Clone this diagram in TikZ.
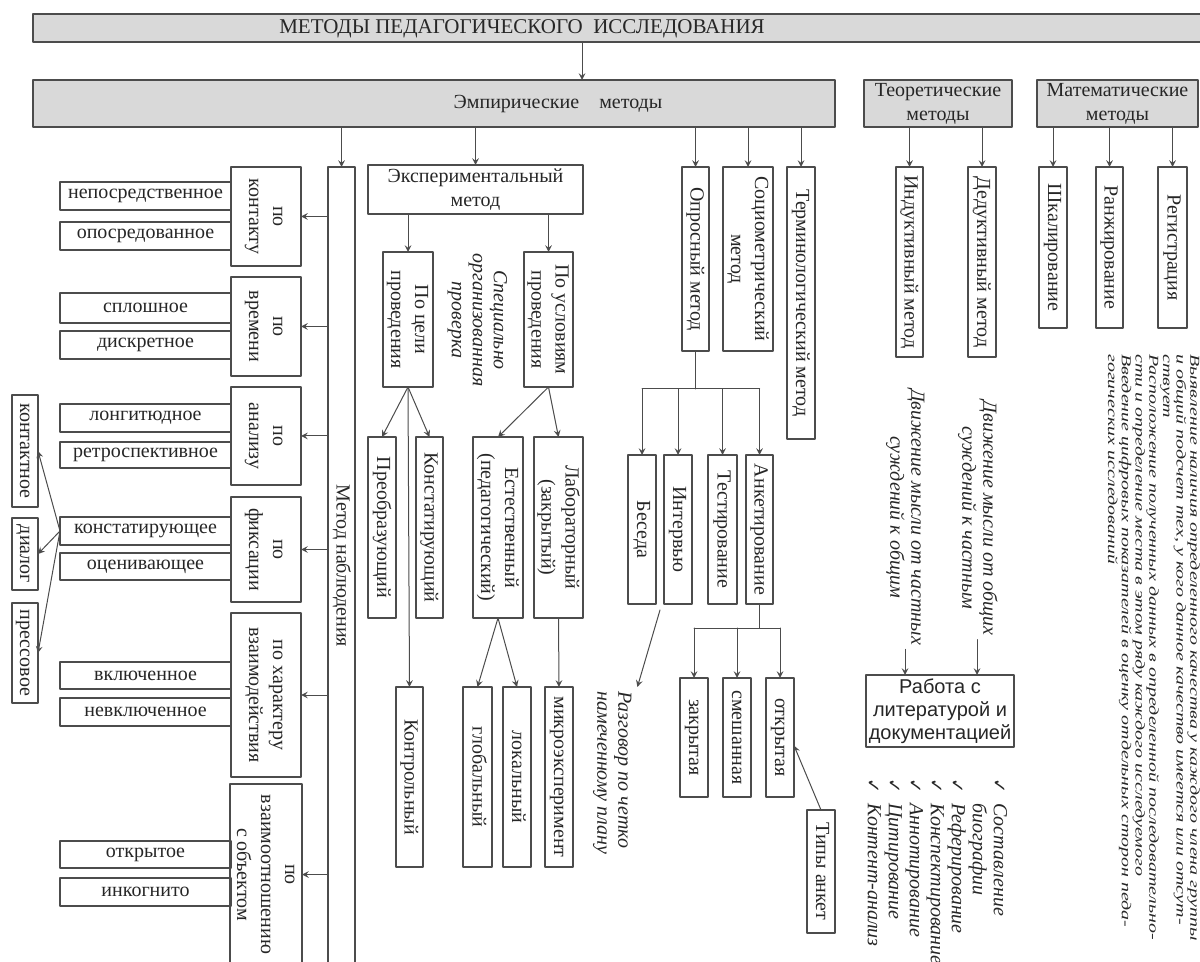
\documentclass[tikz,border=0pt]{standalone}
\usepackage{fontspec}
\setmainfont{Liberation Serif}
\setsansfont{Liberation Sans}
\newfontfamily\checkfont{DejaVu Sans}
\usepackage{graphicx}
\usepackage{tikz}
\usetikzlibrary{arrows}
\colorlet{FrameColor}{black!70}
\colorlet{HeadFill}{black!15}
\newcommand{\vtext}[1]{\rotatebox{-90}{\begin{tabular}{@{}c@{}}#1\end{tabular}}}
\newcommand{\ltext}[1]{\rotatebox{-90}{\begin{tabular}{@{}l@{}}#1\end{tabular}}}
\newcommand{\chk}{{\checkfont\upshape\small ✓}}
\newcommand{\bx}[7][]{\node[box,#1,minimum width={(#5-#3)*0.5pt},minimum height={(#6-#4)*0.5pt}] (#2) at ({(#3+#5)/2},{(#4+#6)/2}) {#7};}
\tikzset{
  box/.style={draw=FrameColor,line width=0.8pt,inner sep=0pt,outer sep=0pt,align=center,
    font=\fontsize{10}{12}\selectfont,text=black!85},
  head/.style={box,fill=HeadFill},
  note/.style={inner sep=2pt,font=\fontsize{10}{10.5}\selectfont\itshape,text=black!85},
  link/.style={->,draw=FrameColor,line width=0.5pt}
}

\begin{document}
\begin{tikzpicture}[line cap=round,line join=round,>=stealth,x=0.5pt,y=-0.5pt]
  \useasboundingbox (0,0) rectangle (1200,962);
  \clip (0,0) rectangle (1200,962);
  \bx[head]{top}{33}{14}{1215}{42}{}
  \node[font=\fontsize{10.5}{12}\selectfont,text=black!85] (toptext) at (522,29) {МЕТОДЫ ПЕДАГОГИЧЕСКОГО\enspace ИССЛЕДОВАНИЯ};
  \bx[head]{empir}{33}{80}{835}{127}{}
  \node[font=\fontsize{10}{12}\selectfont,text=black!85] (empirtext) at (558,104) {Эмпирические\quad методы};
  \bx[head]{teor}{864}{80}{1012}{127}{Теоретические\\методы}
  \bx[head]{mat}{1037}{80}{1198}{127}{Математические\\методы}
  \coordinate (topdrop) at (582,42);
  \draw[link] (topdrop) -- (topdrop |- empir.north);

  \bx{nabl}{328}{167}{355}{965}{\vtext{Метод наблюдения}}
  \bx{konk}{231}{167}{301}{266}{\vtext{по\\контакту}}
  \bx{vrem}{231}{277}{301}{376}{\vtext{по\\времени}}
  \bx{anal}{231}{387}{301}{485}{\vtext{по\\анализу}}
  \bx{fiks}{231}{497}{301}{602}{\vtext{по\\фиксации}}
  \bx{harakt}{231}{613}{301}{777}{\vtext{по характеру\\взаимодействия}}
  \bx{vzaim}{231}{784}{301}{965}{\vtext{по\\взаимоотношению\\с объектом}}
  \bx{nepo}{60}{182}{231}{210}{непосредственное}
  \bx{opos}{60}{222}{231}{250}{опосредованное}
  \bx{splo}{60}{293}{231}{323}{сплошное}
  \bx{disk}{60}{331}{231}{359}{дискретное}
  \bx{long}{60}{404}{231}{432}{лонгитюдное}
  \bx{retr}{60}{442}{231}{468}{ретроспективное}
  \bx{kons}{60}{517}{231}{545}{констатирующее}
  \bx{otse}{60}{553}{231}{580}{оценивающее}
  \bx{vkl}{60}{662}{231}{689}{включенное}
  \bx{nevkl}{60}{698}{231}{726}{невключенное}
  \bx{otkr}{60}{841}{231}{868}{открытое}
  \bx{inko}{60}{878}{231}{906}{инкогнито}
  \bx{kont}{12}{395}{38}{507}{\vtext{контактное}}
  \bx{dial}{12}{518}{38}{590}{\vtext{диалог}}
  \bx{pres}{12}{603}{38}{703}{\vtext{прессовое}}
  \foreach \n in {konk,vrem,anal,fiks,harakt,vzaim}
  \draw[link] (nabl.west |- \n.east) -- (\n.east);
  \foreach \n in {kont,dial,pres}
  \draw[link] (kons.west) -- (\n.east);

  \bx{eksp}{368}{165}{583}{214}{Экспериментальный\\метод}
  \bx{celi}{383}{252}{433}{387}{\vtext{По цели\\проведения}}
  \bx{usl}{524}{252}{573}{387}{\vtext{По условиям\\проведения}}
  \node[note] (spec) at (477,320) {\vtext{Специально\\организованная\\проверка}};
  \bx{preo}{368}{437}{396}{618}{\vtext{Преобразующий}}
  \bx{konst}{416}{437}{443}{618}{\vtext{Констатирующий}}
  \bx{kontr}{396}{687}{423}{867}{\vtext{Контрольный}}
  \bx{est}{473}{437}{523}{618}{\vtext{Естественный\\(педагогический)}}
  \bx{lab}{534}{437}{583}{618}{\vtext{Лабораторный\\(закрытый)}}
  \bx{glob}{463}{687}{492}{867}{\vtext{глобальный}}
  \bx{lok}{503}{687}{531}{867}{\vtext{локальный}}
  \bx{mikro}{545}{687}{573}{867}{\vtext{микроэксперимент}}
  \draw[link] (empir.south -| eksp.north) -- (eksp.north);
  \foreach \n in {celi,usl}
  \draw[link] (eksp.south -| \n.north) -- (\n.north);
  \foreach \n in {preo,konst,kontr}
  \draw[link] (celi.south) -- (\n.north);
  \foreach \n in {est,lab}
  \draw[link] (usl.south) -- (\n.north);
  \foreach \n in {glob,lok}
  \draw[link] (est.south) -- (\n.north);
  \draw[link] (lab.south) -- (mikro.north);

  \bx{opros}{682}{167}{709}{351}{\vtext{Опросный метод}}
  \bx{socio}{723}{167}{773}{351}{\vtext{Социометрический\\метод}}
  \bx{term}{787}{167}{815}{439}{\vtext{Терминологический метод}}
  \bx{beseda}{628}{455}{656}{604}{\vtext{Беседа}}
  \bx{interv}{664}{455}{692}{604}{\vtext{Интервью}}
  \bx{test}{708}{455}{737}{604}{\vtext{Тестирование}}
  \bx{anket}{746}{455}{773}{604}{\vtext{Анкетирование}}
  \bx{zakr}{680}{678}{708}{797}{\vtext{закрытая}}
  \bx{smesh}{723}{678}{751}{797}{\vtext{смешанная}}
  \bx{otkrA}{766}{678}{794}{797}{\vtext{открытая}}
  \bx{tipy}{807}{810}{835}{933}{\vtext{Типы анкет}}
  \node[note] (razg) at (612,773) {\ltext{Разговор по четко\\намеченному плану}};
  \foreach \n in {nabl,opros,socio,term}
  \draw[link] (empir.south -| \n.north) -- (\n.north);
  \draw[FrameColor,line width=0.5pt] (opros.south) -- ++(0,38) coordinate (obus);
  \draw[FrameColor,line width=0.5pt] (beseda.north |- obus) -- (anket.north |- obus);
  \foreach \n in {beseda,interv,test,anket}
  \draw[link] (\n.north |- obus) -- (\n.north);
  \draw[FrameColor,line width=0.5pt] (anket.south) -- ++(0,24) coordinate (abus);
  \draw[FrameColor,line width=0.5pt] (zakr.north |- abus) -- (otkrA.north |- abus);
  \foreach \n in {zakr,smesh,otkrA}
  \draw[link] (\n.north |- abus) -- (\n.north);
  \coordinate (bisplit) at (660,610);
  \draw[link] (bisplit) -- (razg.north east);
  \draw[link] (tipy.north) -- (otkrA.-30);

  \bx{ind}{896}{167}{923}{357}{\vtext{Индуктивный метод}}
  \bx{ded}{968}{167}{996}{357}{\vtext{Дедуктивный метод}}
  \bx{shkal}{1039}{167}{1067}{328}{\vtext{Шкалирование}}
  \bx{ranzh}{1096}{167}{1123}{328}{\vtext{Ранжирование}}
  \bx{reg}{1158}{167}{1187}{328}{\vtext{Регистрация}}
  \foreach \n in {ind,ded}
  \draw[link] (teor.south -| \n.north) -- (\n.north);
  \foreach \n in {shkal,ranzh,reg}
  \draw[link] (mat.south -| \n.north) -- (\n.north);
  \node[note] (dvch) at (905,517) {\vtext{Движение мысли от частных\\суждений к общим}};
  \node[note] (dvob) at (977,518) {\vtext{Движение мысли от общих\\суждений к частным}};
  \bx[font=\sffamily\fontsize{10}{11.5}\selectfont]{rabota}{866}{675}{1014}{747}{Работа с\\литературой и\\документацией}
  \foreach \n in {dvch,dvob}
  \draw[link] (\n.south) -- (\n.south |- rabota.north);
  \node[note,anchor=north] (rablist) at (935,774) {\rotatebox{-90}{\begin{tabular}{@{}l@{\hspace{5pt}}l@{}}
    \chk & Составление\\
         & биографии\\
    \chk & Реферирование\\
    \chk & Конспектирование\\
    \chk & Аннотирование\\
    \chk & Цитирование\\
    \chk & Контент-анализ
  \end{tabular}}};
  \node[note,anchor=north,font=\fontsize{10}{10}\selectfont\itshape] (matnote) at (1152,350) {\rotatebox{-90}{\scalebox{1.0}[0.68]{\begin{tabular}{@{}l@{}}
    Выявление наличия определенного качества у каждого члена группы\\
    и общий подсчет тех, у кого данное качество имеется или отсут-\\
    ствует\\
    Расположение полученных данных в определенной последовательно-\\
    сти и определение места в этом ряду каждого исследуемого\\
    Введение цифровых показателей в оценку отдельных сторон педа-\\
    гогических исследований
  \end{tabular}}}};
\end{tikzpicture}
\end{document}
